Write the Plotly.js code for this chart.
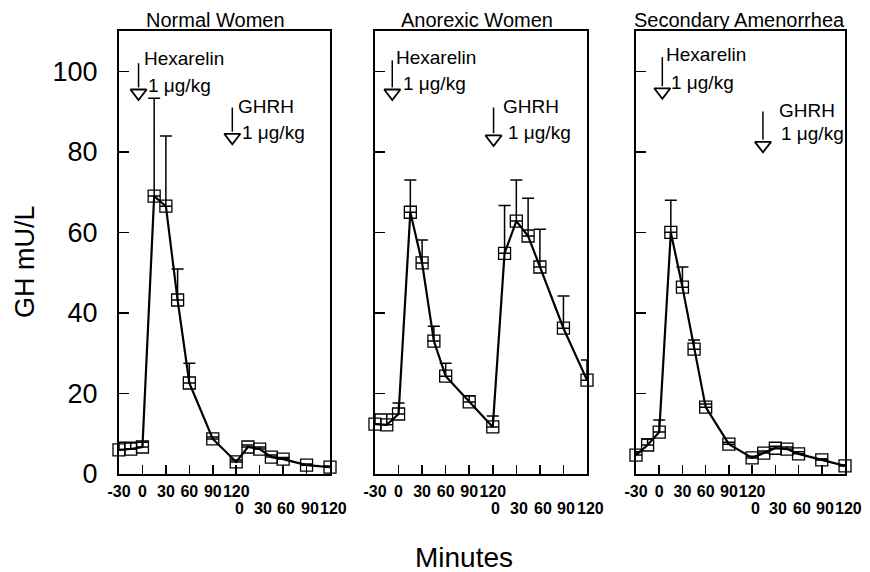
<!DOCTYPE html>
<html>
<head>
<meta charset="utf-8">
<script src="https://cdn.plot.ly/plotly-3.0.1.min.js"></script>
<style>html,body{margin:0;padding:0;background:#fff;}#chart{width:870px;height:572px;}</style>
</head>
<body>
<div id="chart"></div>
<script>
// Time (min) on a continuous axis: -30..120 after Hexarelin, then 0..120 after GHRH (=120..240)
const minutes = [-30, -15, 0, 15, 30, 45, 60, 90, 120, 135, 150, 165, 180, 210, 240];

const panelTitles = ["Normal Women", "Anorexic Women", "Secondary Amenorrhea"];

const normalGH   = [6.0, 6.2, 6.7, 69.0, 66.5, 43.2, 22.6, 8.7, 3.0, 6.7, 6.2, 4.2, 3.7, 2.2, 1.7];
const normalSE   = [1.9, 1.7, 1.2, 24.3, 17.4, 7.7, 4.9, 0.5, 0.5, 0.5, 0.5, 0.5, 0.4, 0.3, 0.3];

const anorexicGH = [12.4, 12.2, 14.9, 65.0, 52.4, 33.0, 24.3, 17.9, 11.7, 54.8, 62.8, 59.1, 51.4, 36.2, 23.3];
const anorexicSE = [2.5, 2.7, 2.7, 8.0, 5.7, 3.7, 3.2, 1.5, 2.7, 11.9, 10.2, 9.4, 9.4, 8.0, 5.0];

const amenorGH   = [4.7, 7.2, 10.4, 60.0, 46.4, 31.0, 16.6, 7.4, 4.0, 5.2, 6.4, 6.2, 5.0, 3.5, 2.0];
const amenorSE   = [0.8, 1.5, 3.0, 8.0, 5.0, 2.3, 0.8, 0.5, 0.4, 0.5, 0.5, 0.5, 0.5, 0.3, 0.3];

// Tick labels
const yTickVals = [0, 20, 40, 60, 80, 100];
const xTickVals1 = [-30, 0, 30, 60, 90, 120, 150, 180, 210];
const xTickText1 = ["-30", "0", "30", "60", "90", "120", "", "", ""];
const xTickVals2 = [120, 150, 180, 210, 240];
const xTickText2 = ["0", "30", "60", "90", "120"];

// Injection arrows (per panel)
const hexArrowX   = [-5, -8, 4];
const hexArrowTop = [102, 102.7, 103.5];
const hexArrowTip = [93, 93, 93.3];
const ghrhArrowX   = [115, 121, 134];
const ghrhArrowTop = [91, 91, 90];
const ghrhArrowTip = [82, 81.6, 80];

// Label positions (per panel)
const hexLabelX = [0.7, -4.5, 7.5];
const hexLabelY = [103.2, 103.5, 104.2];
const hexDoseX  = [5.8, 4.4, 14];
const hexDoseY  = [96.5, 97, 97.3];
const ghrhLabelX = [121, 131.8, 153.5];
const ghrhLabelY = [91.3, 91.3, 90.3];
const ghrhDoseX  = [126, 138, 156];
const ghrhDoseY  = [84.9, 84.9, 84.6];

const FONT = "Liberation Sans, Arial, Helvetica, sans-serif";
const series = [[normalGH, normalSE], [anorexicGH, anorexicSE], [amenorGH, amenorSE]];
const domains = [[119/870, 330/870], [375/870, 587/870], [636/870, 845/870]];
const yDomain = [1 - 474/572, 1 - 31/572];

const traces = [];
const annotations = [];
const layout = {
  width: 870, height: 572,
  margin: {l: 0, r: 0, t: 0, b: 0},
  paper_bgcolor: "#fff", plot_bgcolor: "#fff",
  showlegend: false,
  font: {family: FONT, color: "#000"},
  annotations: annotations
};

series.forEach((s, i) => {
  const n = i + 1;
  const xa = "x" + (n === 1 ? "" : n);
  const ya = "y" + (n === 1 ? "" : n);
  traces.push({
    type: "scatter", mode: "lines+markers", x: minutes, y: s[0],
    xaxis: xa, yaxis: ya, cliponaxis: false,
    line: {color: "#000", width: 2.2},
    marker: {symbol: "square-open", size: 12, color: "#000", line: {width: 1.3, color: "#000"}},
    error_y: {type: "data", array: s[1], arrayminus: s[1].map(() => 0), symmetric: false,
              color: "#000", thickness: 1.5, width: 6}
  });
  // arrows: shaft + open triangle head
  [[hexArrowX, hexArrowTop, hexArrowTip], [ghrhArrowX, ghrhArrowTop, ghrhArrowTip]].forEach(a => {
    traces.push({type: "scatter", mode: "lines", x: [a[0][i], a[0][i]], y: [a[1][i], a[2][i] + 3],
      xaxis: xa, yaxis: ya, cliponaxis: false, line: {color: "#000", width: 1.5}, hoverinfo: "skip"});
    traces.push({type: "scatter", mode: "markers", x: [a[0][i]], y: [a[2][i] + 1.6],
      xaxis: xa, yaxis: ya, cliponaxis: false, hoverinfo: "skip",
      marker: {symbol: "triangle-down-open", size: 14, color: "#000", line: {width: 1.8, color: "#000"}}});
  });

  layout["xaxis" + (n === 1 ? "" : n)] = {
    domain: domains[i], anchor: ya, range: [-30, 240], fixedrange: true,
    showline: true, mirror: true, linecolor: "#000", linewidth: 2,
    showgrid: false, zeroline: false,
    ticks: "inside", ticklen: 9, tickwidth: 1.5, tickcolor: "#000",
    tickmode: "array", tickvals: xTickVals1, ticktext: xTickText1,
    tickangle: 0, ticklabelstandoff: 2,
    tickfont: {family: FONT, size: 16, color: "#000", weight: "bold"}
  };
  layout["yaxis" + (n === 1 ? "" : n)] = {
    domain: yDomain, anchor: xa, range: [0, 110], fixedrange: true,
    showline: true, mirror: true, linecolor: "#000", linewidth: 2,
    showgrid: false, zeroline: false,
    ticks: "inside", ticklen: 10, tickwidth: 1.5, tickcolor: "#000",
    tickmode: "array", tickvals: yTickVals,
    showticklabels: n === 1, ticklabelstandoff: 14,
    tickfont: {family: FONT, size: 27, color: "#000"}
  };

  // second row of minute labels (after GHRH)
  xTickVals2.forEach((v, k) => {
    annotations.push({xref: xa, yref: "paper", x: v, y: 1 - 508/572, text: xTickText2[k],
      showarrow: false, xanchor: "center", yanchor: "middle", xshift: 3,
      font: {family: FONT, size: 16, color: "#000", weight: "bold"}});
  });

  const lab = (x, y, t) => annotations.push({xref: xa, yref: ya, x: x, y: y, text: t, showarrow: false,
    xanchor: "left", yanchor: "middle", borderpad: 0, font: {family: FONT, size: 19, color: "#000"}});
  lab(hexLabelX[i], hexLabelY[i], "Hexarelin");
  lab(hexDoseX[i], hexDoseY[i], "1 μg/kg");
  lab(ghrhLabelX[i], ghrhLabelY[i], "GHRH");
  lab(ghrhDoseX[i], ghrhDoseY[i], "1 μg/kg");
});

const titleX = [215, 477, 739];
panelTitles.forEach((t, i) => annotations.push({xref: "paper", yref: "paper", x: titleX[i]/870, y: 1 - 20/572,
  text: t, showarrow: false, xanchor: "center", yanchor: "middle", font: {family: FONT, size: 20, color: "#000"}}));

annotations.push({xref: "paper", yref: "paper", x: 25/870, y: 1 - 262/572, text: "GH mU/L", textangle: -90,
  showarrow: false, xanchor: "center", yanchor: "middle", font: {family: FONT, size: 27, color: "#000"}});
annotations.push({xref: "paper", yref: "paper", x: 464/870, y: 1 - 557/572, text: "Minutes",
  showarrow: false, xanchor: "center", yanchor: "middle", font: {family: FONT, size: 28, color: "#000"}});

Plotly.newPlot("chart", traces, layout, {staticPlot: true, displayModeBar: false});
</script>
</body>
</html>
